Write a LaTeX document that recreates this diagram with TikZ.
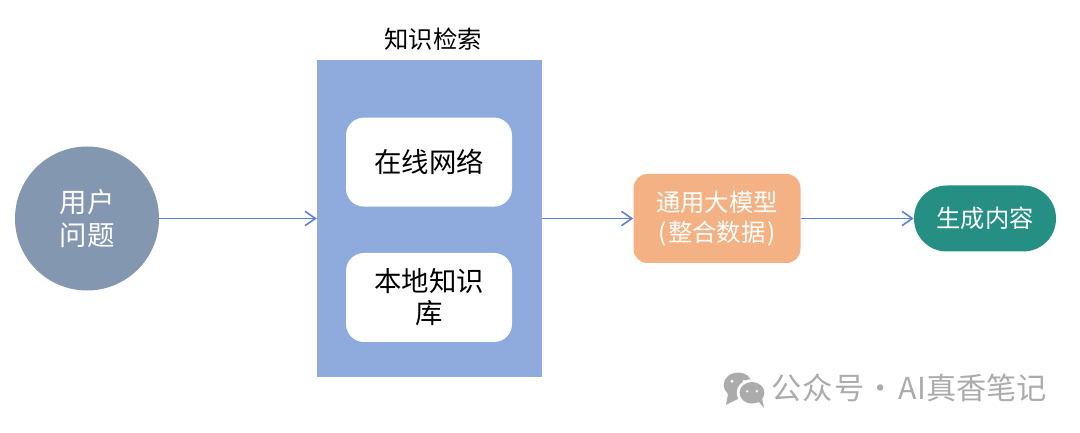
\documentclass[tikz,border=0pt]{standalone}
\usepackage{fontspec}
\usepackage{xcolor}
\setmainfont{Noto Sans CJK SC}
\usetikzlibrary{positioning,calc,arrows.meta}
\definecolor{usergray}{HTML}{8497B0}
\definecolor{searchblue}{HTML}{8FAADC}
\definecolor{linkblue}{HTML}{5B80D0}
\definecolor{modelorange}{HTML}{F4B183}
\definecolor{outputgreen}{HTML}{258F84}
\definecolor{markgray}{HTML}{ABABAB}
\tikzset{
    flowarrow/.style={draw=linkblue, line width=1.1pt, -{Straight Barb[length=2.6mm,width=3.6mm]}},
    bigtext/.style={font=\fontsize{19.5}{22.8}\selectfont, align=center},
    midtext/.style={font=\fontsize{17.3}{21.3}\selectfont, align=center},
    innerbox/.style={fill=white, rounded corners=4.5mm, minimum width=4.15cm, minimum height=2.225cm, bigtext, text width=3.2cm}
}
\begin{document}
\begin{tikzpicture}
    \useasboundingbox (0,0) rectangle (27,10.8);

    % User question
    \node [circle, fill=usergray, minimum size=3.6cm, text=white, bigtext] (user) at (2.175,5.3375) {用户\\问题};

    % Knowledge retrieval
    \node [fill=searchblue, minimum width=5.625cm, minimum height=7.925cm] (search) at (10.7375,5.3375) {};
    \node [midtext, inner sep=0pt] (searchlabel) at (10.83,9.82) {知识检索};
    \node [innerbox] (online) at (10.725,6.7475) {在线网络};
    \node [innerbox] (local) at (10.725,3.3625) {本地知识\\库};

    % General model
    \node [fill=modelorange, rounded corners=3.5mm, minimum width=4.175cm, minimum height=2.225cm, text=white, midtext] (model) at (17.925,5.3375) {通用大模型\\(\kern1.5pt 整合数据\kern1.5pt)};

    % Output
    \node [fill=outputgreen, rounded corners=8.2mm, minimum width=3.55cm, minimum height=1.65cm, text=white, midtext] (output) at (24.625,5.3375) {生成内容};

    % Arrows
    \draw [flowarrow] (user.east) -- (search.west);
    \draw [flowarrow] (search.east |- model.west) -- (model.west);
    \draw [flowarrow] (model.east) -- (output.west);

    % Watermark
    \fill [markgray] (18.45,1.175) ellipse (0.36 and 0.31);
    \fill [markgray] (18.2,0.95) -- (18.15,0.68) -- (18.5,0.85) -- cycle;
    \fill [white] (18.8,0.98) ellipse (0.38 and 0.34);
    \fill [markgray] (18.8,0.98) ellipse (0.31 and 0.27);
    \fill [markgray] (18.95,0.78) -- (19.1,0.6) -- (19.05,0.85) -- cycle;
    \fill [white] (18.3,1.27) circle (0.04) (18.6,1.27) circle (0.04) (18.68,1.02) circle (0.035) (18.92,1.02) circle (0.035);
    \node [anchor=west, inner sep=0pt, text=markgray, font=\fontsize{21.5}{24}\selectfont] (mark) at (19.27,1.1) {公\kern1pt 众\kern1pt 号\kern0.5pt ·\kern2.4pt AI真香笔记};
\end{tikzpicture}
\end{document}
